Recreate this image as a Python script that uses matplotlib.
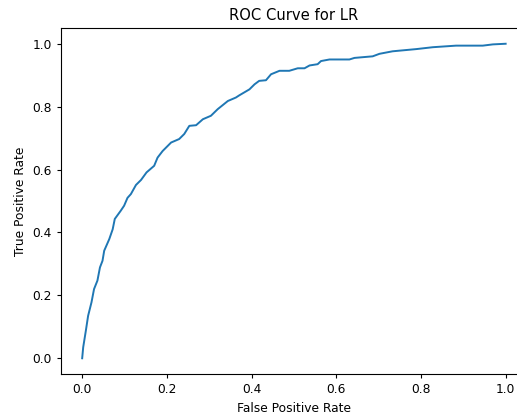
from matplotlib import pyplot as plt

# ROC points for the logistic regression model
fpr = [0.0, 0.0024, 0.0087, 0.014, 0.022, 0.028, 0.036, 0.042, 0.048, 0.052,
       0.064, 0.072, 0.077, 0.091, 0.099, 0.107, 0.115, 0.127, 0.139, 0.152,
       0.170, 0.178, 0.190, 0.210, 0.229, 0.241, 0.253, 0.269, 0.285, 0.304,
       0.320, 0.344, 0.363, 0.371, 0.395, 0.407, 0.418, 0.434, 0.446, 0.466,
       0.489, 0.509, 0.525, 0.537, 0.556, 0.564, 0.584, 0.631, 0.643, 0.686,
       0.702, 0.733, 0.789, 0.828, 0.883, 0.946, 0.970, 1.0]
tpr = [0.0, 0.035, 0.088, 0.135, 0.178, 0.220, 0.247, 0.289, 0.310, 0.342,
       0.379, 0.410, 0.443, 0.469, 0.485, 0.510, 0.522, 0.551, 0.567, 0.591,
       0.612, 0.638, 0.659, 0.686, 0.697, 0.713, 0.739, 0.741, 0.760, 0.771,
       0.792, 0.818, 0.829, 0.836, 0.855, 0.871, 0.882, 0.884, 0.903, 0.914,
       0.914, 0.922, 0.922, 0.931, 0.935, 0.945, 0.950, 0.950, 0.955, 0.960,
       0.968, 0.976, 0.983, 0.989, 0.994, 0.994, 0.998, 1.0]


def plot(fpr, tpr):
    plt.rcParams['font.size'] = 8.8
    plt.rcParams['axes.titlesize'] = 10.6
    plt.rcParams['xtick.major.size'] = 3.1
    plt.rcParams['ytick.major.size'] = 3.1
    plt.rcParams['axes.linewidth'] = 0.8

    fig = plt.figure(figsize=(5.17, 4.17), dpi=100)
    ax = fig.add_axes([0.118, 0.1031, 0.901, 0.8297])
    ax.plot(fpr, tpr, lw=1.4)
    ax.set_title("ROC Curve for LR")
    ax.set_xlabel("False Positive Rate")
    ax.set_ylabel("True Positive Rate")
    fig.savefig("out.png", dpi=100)


if __name__ == '__main__':
    plot(fpr, tpr)
